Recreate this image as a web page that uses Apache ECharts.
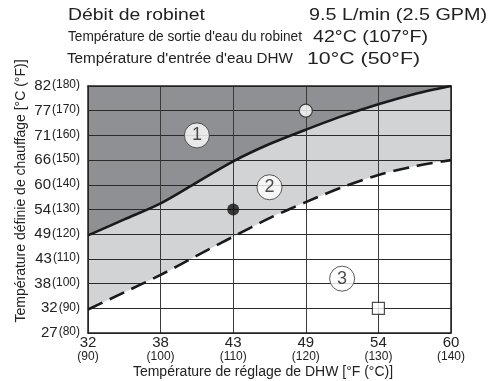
<!DOCTYPE html>
<html>
<head>
<meta charset="utf-8">
<script src="https://cdn.jsdelivr.net/npm/echarts@6/dist/echarts.min.js"></script>
<style>
  html, body { margin: 0; padding: 0; background: #fff; }
  #chart { width: 492px; height: 381px; }
</style>
</head>
<body>
<div id="chart"></div>
<script>
// DHW set temperature (°F) ticks and their °C labels
var xTicksF = [90, 100, 110, 120, 130, 140];
var xTicksC = ['32', '38', '43', '49', '54', '60'];
// Heating set temperature (°F) ticks and their °C labels
var yTicksF = [80, 90, 100, 110, 120, 130, 140, 150, 160, 170, 180];
var yTicksC = ['27', '32', '38', '43', '49', '54', '60', '66', '71', '77', '82'];

// Upper boundary (solid curve): [DHW °F, heating °F]
var upperCurve = [[90, 119.5], [95, 126], [100, 132.5], [105, 141], [110, 149.5], [115, 156.5],
                  [120, 162.3], [125, 167.8], [130, 172.6], [135, 176.8], [140, 180]];
// Lower boundary (dashed curve)
var lowerCurve = [[90, 89.5], [95, 96.5], [100, 103.5], [105, 111.3], [110, 119], [115, 126.5],
                  [120, 133], [125, 139], [130, 144], [135, 147.5], [140, 150]];

// Example operating points
var pointOpen = [[120, 170]];
var pointFilled = [[110, 130]];
var pointSquare = [[130, 90]];

// Region markers
var zoneLabels = [
  { name: '1', value: [105, 160] },
  { name: '2', value: [115, 139] },
  { name: '3', value: [125, 102] }
];

// Conditions listed above the chart
var condLabels = ['Débit de robinet', 'Température de sortie d\'eau du robinet', 'Température d\'entrée d\'eau DHW'];
var condValues = ['9.5 L/min (2.5 GPM)', '42°C (107°F)', '10°C (50°F)'];

var FONT = '"Liberation Sans", Arial, sans-serif';
var INK = '#222';
var DARK = '#8f9093';
var LIGHT = '#d2d3d5';

function labelC(list, ticks) {
  return function (v) {
    var i = ticks.indexOf(Math.round(v));
    return i < 0 ? '' : list[i];
  };
}
var xC = labelC(xTicksC, xTicksF);
var yC = labelC(yTicksC, yTicksF);

// Horizontal scale needed for a text run to occupy a given width
var measureCtx = document.createElement('canvas').getContext('2d');
function fitScale(text, font, width) {
  measureCtx.font = font;
  return width / measureCtx.measureText(text).width;
}
function headerText(text, x, y, size, width) {
  var font = size + 'px ' + FONT;
  return {
    type: 'text', x: x, y: y, scaleX: fitScale(text, font, width), scaleY: 1,
    style: { text: text, font: font, fill: INK, textAlign: 'left', textVerticalAlign: 'middle' }
  };
}

var chart = echarts.init(document.getElementById('chart'), null, { renderer: 'canvas' });

var option = {
  animation: false,
  backgroundColor: '#fff',
  grid: { left: 88, right: 41, top: 86, bottom: 48 },
  xAxis: [{
    type: 'value', min: 90, max: 140, interval: 10, z: 3,
    axisLine: { show: true, lineStyle: { color: INK, width: 1.5 } },
    axisTick: { show: false },
    splitLine: { show: true, lineStyle: { color: '#3a3a3a', width: 1 } },
    axisLabel: {
      margin: 3,
      formatter: function (v) { return '{a|' + xC(v) + '}\n{b|(' + v + ')}'; },
      rich: {
        a: { fontFamily: FONT, fontSize: 15, color: INK, lineHeight: 14 },
        b: { fontFamily: FONT, fontSize: 12, color: INK, lineHeight: 13 }
      }
    }
  }, {
    type: 'value', min: 90, max: 140, position: 'top', z: 3,
    axisLine: { show: true, onZero: false, lineStyle: { color: INK, width: 1.5 } },
    axisTick: { show: false }, axisLabel: { show: false }, splitLine: { show: false }
  }],
  yAxis: [{
    type: 'value', min: 80, max: 180, interval: 10, z: 3,
    axisLine: { show: true, lineStyle: { color: INK, width: 1.5 } },
    axisTick: { show: false },
    splitLine: { show: true, lineStyle: { color: '#2a2a2a', width: 1 } },
    axisLabel: {
      margin: 8,
      formatter: function (v) { return '{a|' + yC(v) + '}{b|(' + v + ')}'; },
      rich: {
        a: { fontFamily: FONT, fontSize: 15, color: INK },
        b: { fontFamily: FONT, fontSize: 12, color: INK, padding: [0, 0, 2, 1] }
      }
    }
  }, {
    type: 'value', min: 80, max: 180, position: 'right', z: 3,
    axisLine: { show: true, onZero: false, lineStyle: { color: INK, width: 1.5 } },
    axisTick: { show: false }, axisLabel: { show: false }, splitLine: { show: false }
  }],
  series: [
    { // light band above the dashed boundary
      type: 'line', data: lowerCurve, smooth: 0.3, symbol: 'none', z: 1,
      lineStyle: { width: 0 }, areaStyle: { color: LIGHT, opacity: 1, origin: 'end' }
    },
    { // dark band above the solid boundary
      type: 'line', data: upperCurve, smooth: 0.3, symbol: 'none', z: 1,
      lineStyle: { width: 0 }, areaStyle: { color: DARK, opacity: 1, origin: 'end' }
    },
    {
      type: 'line', data: lowerCurve, smooth: 0.3, symbol: 'none', z: 5,
      lineStyle: { color: '#1a1a1a', width: 2.6, type: [16, 8] }
    },
    {
      type: 'line', data: upperCurve, smooth: 0.3, symbol: 'none', z: 5,
      lineStyle: { color: '#1a1a1a', width: 2.6 }
    },
    {
      type: 'scatter', data: pointOpen, symbol: 'circle', symbolSize: 13, z: 6,
      itemStyle: { color: '#fff', borderColor: '#222', borderWidth: 1.2 }
    },
    {
      type: 'scatter', data: pointFilled, symbol: 'circle', symbolSize: 12, z: 6,
      itemStyle: { color: '#111' }
    },
    {
      type: 'scatter', data: pointSquare, symbol: 'rect', symbolSize: 12, z: 6,
      itemStyle: { color: '#fff', borderColor: '#222', borderWidth: 1.2 }
    },
    {
      type: 'scatter', data: zoneLabels, symbol: 'circle', symbolSize: 25, z: 6,
      itemStyle: { color: '#fff', borderColor: '#333', borderWidth: 1 },
      label: {
        show: true, position: 'inside', formatter: '{b}',
        fontFamily: FONT, fontSize: 18, color: INK
      }
    }
  ],
  graphic: [
    headerText(condLabels[0], 68, 15, 17, 137),
    headerText(condValues[0], 309, 15, 17, 178),
    headerText(condLabels[1], 68, 37, 15.5, 234),
    headerText(condValues[1], 313, 37, 17, 115),
    headerText(condLabels[2], 67, 59, 15.5, 226),
    headerText(condValues[2], 307, 59, 17, 113),
    {
      type: 'text', x: 21, y: 191, rotation: Math.PI / 2,
      style: { text: 'Température définie de chauffage [°C (°F)]', font: '14px ' + FONT, fill: INK,
               textAlign: 'center', textVerticalAlign: 'middle' }
    },
    {
      type: 'text', x: 263, y: 372,
      style: { text: 'Température de réglage de DHW [°F (°C)]', font: '14px ' + FONT, fill: INK,
               textAlign: 'center', textVerticalAlign: 'middle' }
    }
  ]
};
chart.setOption(option);
</script>
</body>
</html>
